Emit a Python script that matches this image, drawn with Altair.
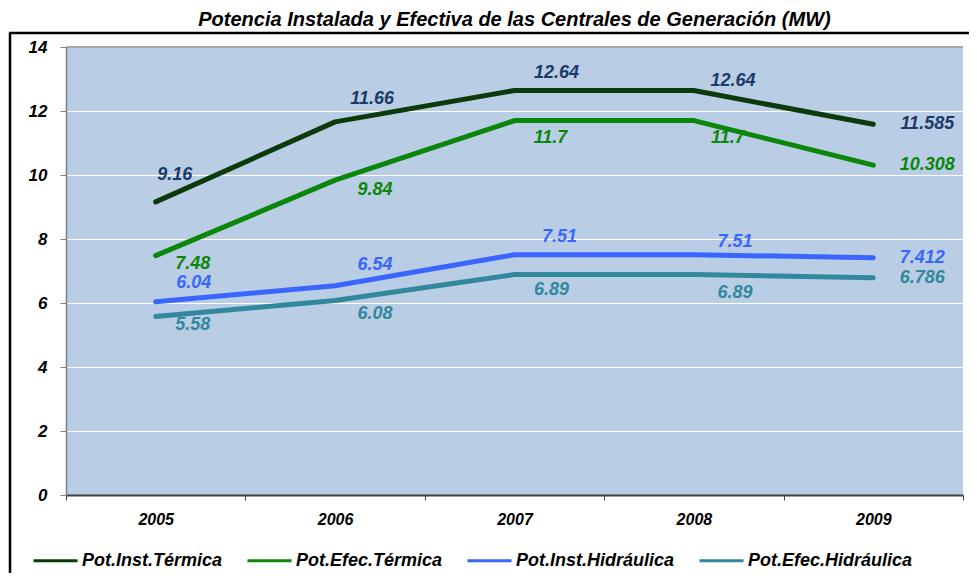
import altair as alt
import pandas as pd

years = ["2005", "2006", "2007", "2008", "2009"]
series_names = ["Pot.Inst.Térmica", "Pot.Efec.Térmica", "Pot.Inst.Hidráulica", "Pot.Efec.Hidráulica"]
inst_termica = [9.16, 11.66, 12.64, 12.64, 11.585]
efec_termica = [7.48, 9.84, 11.7, 11.7, 10.308]
inst_hidraulica = [6.04, 6.54, 7.51, 7.51, 7.412]
efec_hidraulica = [5.58, 6.08, 6.89, 6.89, 6.786]
y_ticks = [0, 2, 4, 6, 8, 10, 12, 14]
title_text = "Potencia Instalada y Efectiva de las Centrales de Generación (MW)"

# styles
line_colors = ["#0B3A0B", "#0A870A", "#3A66FF", "#31879C"]
label_colors = ["#1B3A68", "#0A870A", "#3A66FF", "#31879C"]
# per-label pixel offsets (dx, dy) from the data point, one row per series
label_offsets = [
    [(19, -27), (37, -23), (42, -18), (39, -10), (54, 0)],
    [(37, 8), (40, 10), (36, 17), (34, 17), (54, 0)],
    [(38, -19), (40, -21), (45, -18), (41, -13), (49, 0)],
    [(37, 9), (40, 14), (37, 15), (41, 18), (49, 0)],
]

FONT = "Liberation Sans"

rows = []
for name, vals in zip(series_names, [inst_termica, efec_termica, inst_hidraulica, efec_hidraulica]):
    for yr, v in zip(years, vals):
        rows.append({"year": yr, "series": name, "value": v, "label": str(v)})
df = pd.DataFrame(rows)

W, H = 897, 448
x_enc = alt.X("year:N", bandPosition=0.5,
              scale=alt.Scale(type="band", domain=years, paddingInner=0, paddingOuter=0),
              axis=alt.Axis(title=None, labelAngle=0, tickBand="extent", tickSize=5,
                            tickColor="#404040", domainColor="#404040", domainWidth=2,
                            labelFont=FONT, labelFontSize=16, labelFontWeight="bold",
                            labelFontStyle="italic", labelColor="black", labelPadding=11,
                            grid=False))
y_scale = alt.Scale(domain=[0, 14], nice=False, zero=True)

base = alt.Chart(df)

lines = base.mark_line(strokeWidth=5, strokeCap="round", strokeJoin="round").encode(
    x=x_enc,
    y=alt.Y("value:Q", scale=y_scale,
            axis=alt.Axis(title=None, values=y_ticks, tickSize=6, tickColor="#7f7f7f",
                          domainColor="#7f7f7f", domainWidth=1.5, gridColor="white",
                          gridWidth=1.2, labelFont=FONT, labelFontSize=17,
                          labelFontWeight="bold", labelFontStyle="italic",
                          labelColor="black", labelPadding=13)),
    color=alt.Color("series:N", sort=series_names,
                    scale=alt.Scale(domain=series_names, range=line_colors),
                    legend=alt.Legend(title=None, orient="none", direction="horizontal",
                                      legendX=-34, legendY=490, symbolType="stroke",
                                      symbolSize=1936, symbolStrokeWidth=3,
                                      labelFont=FONT, labelFontSize=18,
                                      labelFontWeight="bold", labelFontStyle="italic",
                                      labelColor="black", labelOffset=3, labelLimit=400,
                                      columnPadding=18, padding=0)),
)

top_rule = alt.Chart(pd.DataFrame({"v": [14]})).mark_rule(color="#8c8c8c", strokeWidth=1.5).encode(
    y=alt.Y("v:Q", scale=y_scale)
)

frame_left = alt.Chart(pd.DataFrame({"v": [0]})).mark_rule(color="black", strokeWidth=2.5).encode(
    x=alt.value(-56), y=alt.value(-14), y2=alt.value(H + 80)
)
frame_top = alt.Chart(pd.DataFrame({"v": [0]})).mark_rule(color="black", strokeWidth=2.5).encode(
    x=alt.value(-57), x2=alt.value(W + 10), y=alt.value(-14)
)
title_mark = alt.Chart(pd.DataFrame({"t": [title_text]})).mark_text(
    font=FONT, fontSize=20, fontWeight="bold", fontStyle="italic", color="black",
    align="center", baseline="middle").encode(
    x=alt.value(W / 2), y=alt.value(-27), text="t:N")

layers = [frame_left, frame_top, title_mark, top_rule, lines]
for i, name in enumerate(series_names):
    for j, yr in enumerate(years):
        dx, dy = label_offsets[i][j]
        layers.append(
            base.transform_filter(
                (alt.datum.series == name) & (alt.datum.year == yr)
            ).mark_text(font=FONT, fontSize=18, fontWeight="bold", fontStyle="italic",
                        color=label_colors[i], dx=dx, dy=dy,
                        align="center", baseline="middle").encode(
                x=x_enc, y=alt.Y("value:Q", scale=y_scale), text="label:N")
        )

chart = alt.layer(*layers).properties(
    width=W, height=H,
    autosize=alt.AutoSizeParams(type="none"),
    padding={"left": 58, "top": 39, "right": 6, "bottom": 78},
).configure(background="white").configure_view(fill="#B9CDE5", stroke=None)

chart.save("out.html", embed_options={"renderer": "svg", "actions": False})
